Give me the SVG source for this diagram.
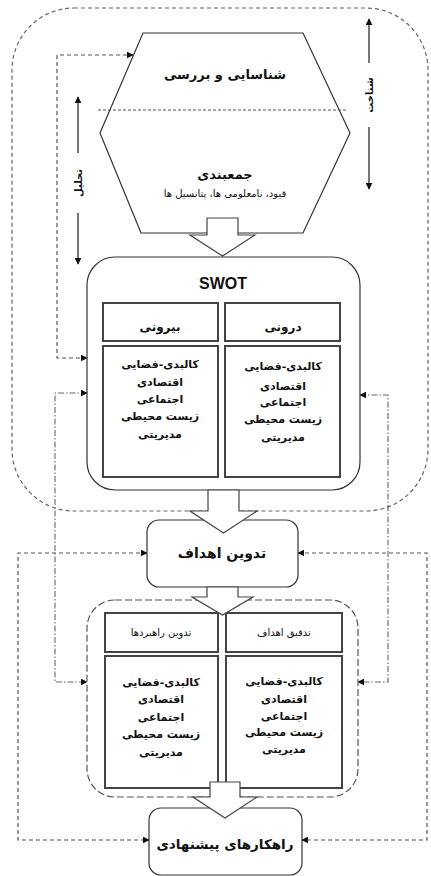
<svg xmlns="http://www.w3.org/2000/svg" width="431" height="876" viewBox="0 0 431 876">
<style>
.fa{font-family:"DejaVu Sans",sans-serif;text-anchor:middle;fill:#111}
.b{font-weight:bold}
.box{fill:#fff;stroke:#333;stroke-width:1.2}
.cell{fill:#fff;stroke:#444;stroke-width:2}
.barrow{fill:#fff;stroke:#444;stroke-width:1.2}
.dash{fill:none;stroke:#555;stroke-width:1.2;stroke-dasharray:4 3}
.dashdot{fill:none;stroke:#666;stroke-width:1.1;stroke-dasharray:6 2 1.5 2}
.solid{fill:none;stroke:#555;stroke-width:1.6}
</style>
<defs>
<marker id="ah" viewBox="0 0 10 10" refX="9" refY="5" markerWidth="7" markerHeight="7" markerUnits="userSpaceOnUse" orient="auto-start-reverse">
<path d="M0,0 L10,5 L0,10 z" fill="#111"/>
</marker>
</defs>
<rect width="431" height="876" fill="#fff"/>
<g id="outer">
<rect x="12" y="8" width="416" height="503" rx="62" ry="62" fill="none" stroke="#666" stroke-width="1.2" stroke-dasharray="4 3"/>
</g>
<g id="connectors">
<path class="dash" d="M87,358 H57 V55 H133" marker-start="url(#ah)" marker-end="url(#ah)"/>
<path class="dashdot" d="M87,393 H55 V682 H87" marker-start="url(#ah)" marker-end="url(#ah)"/>
<path class="dashdot" d="M360,395 H388 V682 H358" marker-start="url(#ah)" marker-end="url(#ah)"/>
<path class="dash" d="M147,553 H18 V840 H149" marker-start="url(#ah)" marker-end="url(#ah)"/>
<path class="dash" d="M298,553 H427 V840 H302" marker-start="url(#ah)" marker-end="url(#ah)"/>
<line class="solid" x1="78" y1="153" x2="78" y2="97" marker-end="url(#ah)"/>
<line class="solid" x1="78" y1="213" x2="78" y2="264" marker-end="url(#ah)"/>
<line class="solid" x1="369" y1="63" x2="369" y2="19" marker-end="url(#ah)"/>
<line class="solid" x1="369" y1="127" x2="369" y2="189" marker-end="url(#ah)"/>
<text class="fa b" font-size="10" transform="translate(82,183) rotate(-90)">تحلیل</text>
<text class="fa b" font-size="10" transform="translate(373,95) rotate(-90)">شناخت</text>
</g>
<g id="hexagon">
<polygon class="box" points="143,33 303,33 350,133 303,233 141,233 100,133"/>
<line x1="98" y1="110" x2="347" y2="110" stroke="#555" stroke-width="1" stroke-dasharray="3 2"/>
<text class="fa b" font-size="13" x="225" y="79">شناسایی و بررسی</text>
<text class="fa b" font-size="13" x="225" y="179">جمعبندی</text>
<text class="fa" font-size="10" x="225" y="197" fill="#444">قیود، نامعلومی ها، پتانسیل ها</text>
</g>
<g id="swot">
<rect class="box" x="87" y="257" width="273" height="233" rx="28"/>
<text x="223" y="289" font-family="Liberation Sans, Arial, sans-serif" font-weight="bold" font-size="16" text-anchor="middle" fill="#111">SWOT</text>
<rect class="cell" x="103" y="303" width="115" height="38"/>
<rect class="cell" x="225" y="303" width="115" height="38"/>
<rect class="cell" x="103" y="346" width="115" height="131"/>
<rect class="cell" x="225" y="346" width="115" height="131"/>
<text class="fa b" font-size="12" x="160" y="331">بیرونی</text>
<text class="fa b" font-size="12" x="283" y="331">درونی</text>
<g class="fa b" font-size="11">
<text x="160" y="368">کالبدی-فضایی</text>
<text x="160" y="386">اقتصادی</text>
<text x="160" y="403">اجتماعی</text>
<text x="160" y="420">زیست محیطی</text>
<text x="160" y="438">مدیریتی</text>
<text x="283" y="370">کالبدی-فضایی</text>
<text x="283" y="390">اقتصادی</text>
<text x="283" y="406">اجتماعی</text>
<text x="283" y="423">زیست محیطی</text>
<text x="283" y="441">مدیریتی</text>
</g>
</g>
<g id="arrow1"><polygon class="barrow" points="207,218 238,218 238,235 255,235 222.5,256 190,235 207,235"/></g>
<g id="goals">
<rect class="box" x="147" y="520" width="151" height="67" rx="12"/>
<text class="fa b" font-size="14" x="222" y="558">تدوین اهداف</text>
</g>
<g id="arrow2"><polygon class="barrow" points="208,490 239,490 239,511 257,511 223.5,533 190,511 208,511"/></g>
<g id="lower">
<rect x="87" y="600" width="271" height="197" rx="28" fill="#fff" stroke="#555" stroke-width="1.2" stroke-dasharray="7 3"/>
<rect class="cell" x="105" y="613" width="113" height="39"/>
<rect class="cell" x="226" y="613" width="116" height="39"/>
<rect class="cell" x="105" y="656" width="113" height="132"/>
<rect class="cell" x="226" y="656" width="116" height="132"/>
<text class="fa" font-size="10" x="161" y="636">تدوین راهبردها</text>
<text class="fa" font-size="10" x="284" y="636">تدقیق اهداف</text>
<g class="fa b" font-size="11">
<text x="161" y="686">کالبدی-فضایی</text>
<text x="161" y="703">اقتصادی</text>
<text x="161" y="721">اجتماعی</text>
<text x="161" y="738">زیست محیطی</text>
<text x="161" y="756">مدیریتی</text>
<text x="284" y="685">کالبدی-فضایی</text>
<text x="284" y="703">اقتصادی</text>
<text x="284" y="720">اجتماعی</text>
<text x="284" y="736">زیست محیطی</text>
<text x="284" y="753">مدیریتی</text>
</g>
</g>
<g id="arrow3"><polygon class="barrow" points="207,587 238,587 238,597 253,597 222.5,615 192,597 207,597"/></g>
<g id="proposals">
<rect class="box" x="149" y="808" width="153" height="67" rx="12"/>
<text class="fa b" font-size="13.5" x="225" y="849">راهکارهای پیشنهادی</text>
</g>
<g id="arrow4"><polygon class="barrow" points="210,782 240,782 240,797 257,797 225,818 193,797 210,797"/></g>
</svg>
